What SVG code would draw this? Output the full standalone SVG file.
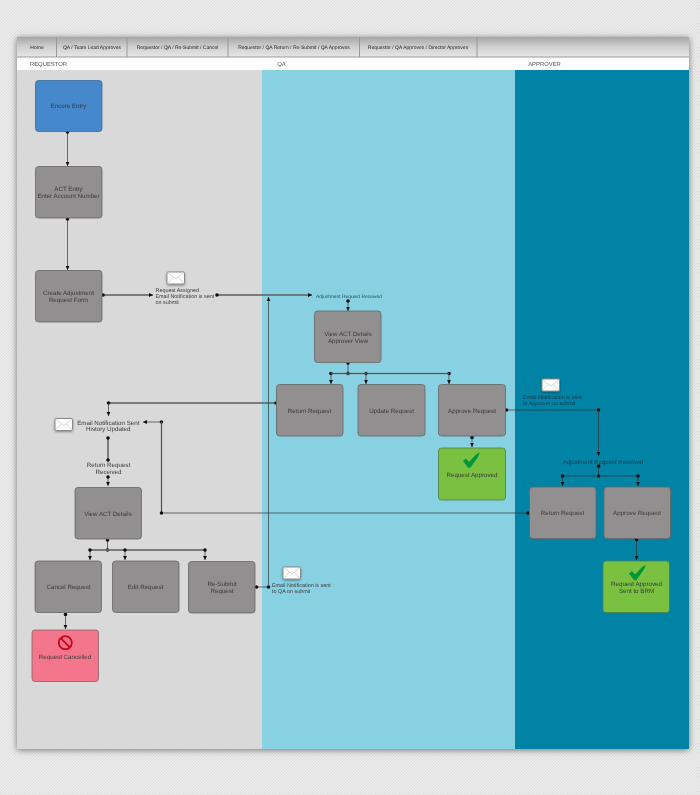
<svg xmlns="http://www.w3.org/2000/svg" width="700" height="795" viewBox="0 0 700 795">
<style>
text{font-family:"Liberation Sans",Arial,sans-serif;font-size:6.2px;fill:#3a3a3a;text-anchor:middle;text-rendering:geometricPrecision}
.nav{font-size:5px;fill:#222}
.hd{font-size:5.9px;fill:#555}
.sm{font-size:5.4px;fill:#3a3a3a;text-anchor:start}
.sc{font-size:4.9px;fill:#1d4a5a}
.n{fill:#918f90;stroke:#666;stroke-width:.8}
.b{fill:#4488cc;stroke:#3a6a96;stroke-width:.8}
.g{fill:#7ac143;stroke:#4f7f4a;stroke-width:.8}
.p{fill:#f4768c;stroke:#8a6068;stroke-width:.8}
.c{fill:none;stroke:#333;stroke-width:.7}
.t{fill:none;stroke:#8f8f8f;stroke-width:1.4}
.e{fill:#fff;stroke:#8a8a8a;stroke-width:1}
.f{fill:none;stroke:#aaa;stroke-width:.5}
.sep{stroke:#999;stroke-width:1}
</style>
<defs>
<pattern id="tx" width="3" height="3" patternUnits="userSpaceOnUse">
<rect width="3" height="3" fill="#ebebeb"/>
<path d="M0 3L3 0M-1 1L1 -1M2 4L4 2" stroke="#dddddd" stroke-width=".9"/>
</pattern>
<linearGradient id="ng" x1="0" y1="0" x2="0" y2="1"><stop offset="0" stop-color="#a6a6a6"/><stop offset=".5" stop-color="#d0d0d0"/><stop offset="1" stop-color="#e6e6e6"/></linearGradient>
<filter id="sh" x="-5%" y="-5%" width="110%" height="110%"><feDropShadow dx="0" dy="1" stdDeviation="3" flood-color="#000" flood-opacity=".5"/></filter>
<filter id="es" x="-30%" y="-30%" width="160%" height="160%"><feDropShadow dx="0" dy="1" stdDeviation=".8" flood-color="#000" flood-opacity=".4"/></filter>
<filter id="soft" filterUnits="userSpaceOnUse" x="0" y="0" width="700" height="795"><feGaussianBlur stdDeviation=".3"/></filter>
<marker id="d" markerUnits="userSpaceOnUse" markerWidth="5" markerHeight="5" refX="2.5" refY="2.5"><circle cx="2.5" cy="2.5" r="1.8" fill="#111"/></marker>
<marker id="a" markerUnits="userSpaceOnUse" markerWidth="5" markerHeight="5" refX="4" refY="2.5" orient="auto"><path d="M0 .6L4 2.500L0 4.4Z" fill="#111"/></marker>
<g id="env"><rect class="e" width="17.5" height="12" rx="1.2" filter="url(#es)"/><path class="f" d="M.5 .5L8.75 7L17 .5M.5 11.5L6 5.5M17 11.5L11.5 5.5"/></g>
<path id="chk" d="M0 9L3 6.5L6 10L13 2.500L17 0L15 5L7 16L5 15.500Z" fill="#00973a"/>
</defs>
<rect width="700" height="795" fill="url(#tx)"/>
<g id="page">
<rect x="17" y="37" width="672" height="712" fill="#d9d9d9" filter="url(#sh)"/>
<rect x="262" y="70" width="253" height="679" fill="#88d1e2"/>
<rect x="515" y="70" width="174" height="679" fill="#0083a5"/>
<rect x="17" y="37" width="672" height="20" fill="url(#ng)"/>
<rect x="17" y="57" width="672" height="13" fill="#fff"/>
<path class="sep" d="M56.500 37V57M127 37V57M228 37V57M359.500 37V57M477 37V57M17 57H689"/>
<g filter="url(#soft)">
<text class="nav" x="37" y="49">Home</text>
<text class="nav" x="92" y="49">QA / Team Lead Approves</text>
<text class="nav" x="177.500" y="49">Requestor / QA / Re-Submit / Cancel</text>
<text class="nav" x="294" y="49">Requestor / QA  Return / Re-Submit / QA Approves</text>
<text class="nav" x="418" y="49">Requestor / QA  Approves / Director Approves</text>
<text class="hd" x="48.500" y="65.500">REQUESTOR</text>
<text class="hd" x="281.500" y="66">QA</text>
<text class="hd" x="544.500" y="66">APPROVER</text>
</g>
</g>
<g filter="url(#soft)">
<g id="connectors">
<path class="c" d="M67.500 132V166" marker-start="url(#d)" marker-end="url(#a)"/>
<path class="c" d="M67.500 219V270" marker-start="url(#d)" marker-end="url(#a)"/>
<path class="t" d="M103 295H153"/><path class="c" d="M103 295H153" marker-start="url(#d)" marker-end="url(#a)"/>
<path class="t" d="M217 295H312"/><path class="c" d="M217 295H312" marker-start="url(#d)" marker-end="url(#a)"/>
<path class="c" d="M348 301V311" marker-start="url(#d)" marker-end="url(#a)"/>
<path class="c" d="M348 363V373.500" marker-start="url(#d)" marker-end="url(#d)"/>
<path class="c" d="M331 373.500V384" marker-start="url(#d)" marker-end="url(#a)"/>
<path class="c" d="M366 373.500V384" marker-start="url(#d)" marker-end="url(#a)"/>
<path class="c" d="M449 373.500V384" marker-start="url(#d)" marker-end="url(#a)"/>
<path class="t" d="M331 373.500H449"/><path class="c" d="M331 373.500H449"/>
<path class="t" d="M276 403H108.500"/><path class="c" d="M276 403H108.500" marker-start="url(#d)" marker-end="url(#d)"/>
<path class="c" d="M108.500 403V416" marker-end="url(#a)"/>
<path class="c" d="M161.500 422H143" marker-start="url(#d)" marker-end="url(#a)"/>
<path class="t" d="M161.500 422V513"/><path class="c" d="M161.500 422V513" marker-end="url(#d)"/>
<path class="c" d="M161.500 513H528" marker-end="url(#d)"/>
<path class="t" d="M108 438V460"/><path class="c" d="M108 438V460" marker-start="url(#d)" marker-end="url(#d)"/>
<path class="c" d="M108 477V486" marker-start="url(#d)" marker-end="url(#a)"/>
<path class="c" d="M107.500 540V550" marker-start="url(#d)" marker-end="url(#d)"/>
<path class="t" d="M90 550H205"/><path class="c" d="M90 550H205"/>
<path class="c" d="M90 550V560" marker-start="url(#d)" marker-end="url(#a)"/>
<path class="c" d="M125 550V560" marker-start="url(#d)" marker-end="url(#a)"/>
<path class="c" d="M205 550V560" marker-start="url(#d)" marker-end="url(#a)"/>
<path class="c" d="M65.500 614.500V629" marker-start="url(#d)" marker-end="url(#a)"/>
<path class="c" d="M256.500 587H268.500" marker-start="url(#d)" marker-end="url(#d)"/>
<path class="c" d="M268.500 587V297" marker-end="url(#a)"/>
<path class="c" d="M506.500 410H598.500" marker-start="url(#d)" marker-end="url(#d)"/>
<path class="c" d="M598.500 410V456" marker-end="url(#a)"/>
<path class="c" d="M472 437.500V447" marker-start="url(#d)" marker-end="url(#a)"/>
<path class="c" d="M598.500 466V476" marker-start="url(#d)" marker-end="url(#d)"/>
<path class="c" d="M562.500 476H638"/>
<path class="c" d="M562.500 476V486" marker-start="url(#d)" marker-end="url(#a)"/>
<path class="c" d="M638 476V486" marker-start="url(#d)" marker-end="url(#a)"/>
<path class="c" d="M636.500 540V560" marker-start="url(#d)" marker-end="url(#a)"/>
</g>
<g id="encore-entry"><rect class="b" x="35.500" y="80.500" width="66.500" height="51" rx="3"/><text x="68.500" y="108">Encore Entry</text></g>
<g id="act-entry"><rect class="n" x="35.500" y="166.500" width="66.500" height="51.500" rx="3"/><text x="68.500" y="191">ACT Entry</text><text x="68.500" y="197.500">Enter Account Number</text></g>
<g id="create-form"><rect class="n" x="35.500" y="270.500" width="66.500" height="51.500" rx="3"/><text x="68.500" y="295">Create Adjustment</text><text x="68.500" y="301.500">Request Form</text></g>
<g id="view-approver"><rect class="n" x="314.500" y="311" width="66.500" height="51.500" rx="3"/><text x="348" y="335.500">View ACT Details</text><text x="348" y="342.500">Approver View</text></g>
<g id="return-qa"><rect class="n" x="276.500" y="384.500" width="66.500" height="51.500" rx="3"/><text x="309.500" y="412.500">Return Request</text></g>
<g id="update-qa"><rect class="n" x="358" y="384.500" width="67" height="51.500" rx="3"/><text x="391.500" y="412.500">Update Request</text></g>
<g id="approve-qa"><rect class="n" x="438.500" y="384.500" width="67" height="51.500" rx="3"/><text x="472" y="412.500">Approve Request</text></g>
<g id="approved-qa"><rect class="g" x="438.500" y="448" width="67" height="52" rx="3"/><use href="#chk" x="463" y="452"/><text x="472" y="476.500">Request Approved</text></g>
<g id="view-act"><rect class="n" x="75" y="487.500" width="66.500" height="51.500" rx="3"/><text x="108" y="515.500">View ACT Details</text></g>
<g id="cancel"><rect class="n" x="35" y="561" width="66.500" height="51.500" rx="3"/><text x="68.500" y="589">Cancel Request</text></g>
<g id="edit"><rect class="n" x="112.500" y="561" width="66.500" height="51.500" rx="3"/><text x="145.500" y="589">Edit Request</text></g>
<g id="resubmit"><rect class="n" x="188.500" y="561.500" width="66.500" height="51.500" rx="3"/><text x="222" y="586">Re-Submit</text><text x="222" y="593">Request</text></g>
<g id="cancelled"><rect class="p" x="32" y="630" width="66.500" height="51.500" rx="3"/><circle cx="65.300" cy="642.700" r="6.500" fill="none" stroke="#d0021b" stroke-width="1.800"/><path d="M60.700 638.100L69.900 647.300" stroke="#d0021b" stroke-width="1.800"/><text x="65" y="658.500">Request Cancelled</text></g>
<g id="return-ap"><rect class="n" x="529.500" y="487" width="66.500" height="51.500" rx="3"/><text x="562.500" y="515">Return Request</text></g>
<g id="approve-ap"><rect class="n" x="604" y="487" width="66.500" height="51.500" rx="3"/><text x="637" y="515">Approve Request</text></g>
<g id="approved-brm"><rect class="g" x="603" y="561" width="66.500" height="51.500" rx="3"/><use href="#chk" x="629" y="564.500"/><text x="636.500" y="585.800">Request Approved</text><text x="636.500" y="592.500">Sent to BRM</text></g>
<g id="labels">
<g id="note-assigned"><use href="#env" x="167" y="272"/><text class="sm" x="155.500" y="292">Request Assigned</text><text class="sm" x="155.500" y="298">Email Notification is sent</text><text class="sm" x="155.500" y="304">on submit</text></g>
<text x="349" y="297.800" class="sc">Adjustment Request Received</text>
<g id="note-return"><use href="#env" x="55" y="418.500"/><text x="108.300" y="424.500">Email Notification Sent</text><text x="108.300" y="431.300">History Updated</text></g>
<text x="108.500" y="467">Return Request</text><text x="108.500" y="473.700">Received</text>
<g id="note-qa"><use href="#env" x="283" y="567"/><text class="sm" x="272" y="586.500">Email Notification is sent</text><text class="sm" x="272" y="592.500">to QA on submit</text></g>
<g id="note-approver"><use href="#env" x="542" y="379"/><text class="sm" x="523" y="398.800" style="fill:#12394a">Email Notification is sent</text><text class="sm" x="523" y="405" style="fill:#12394a">to Approver on submit</text></g>
<text x="603" y="463.500" style="fill:#12394a;font-size:6px">Adjustment Request Received</text>
</g>
</g>
</svg>
